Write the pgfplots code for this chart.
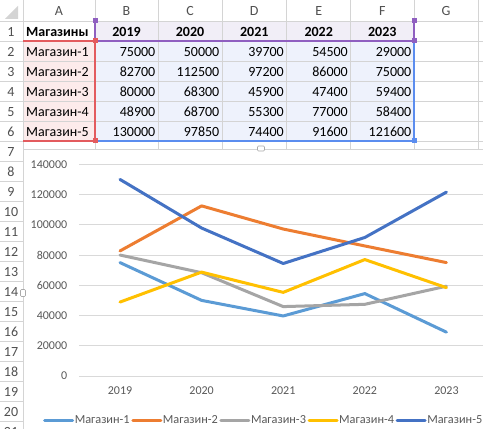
\documentclass[border=0pt]{standalone}
\usepackage{fontspec}
\setmainfont{Carlito}
\usepackage{pgfplots}
\pgfplotsset{compat=1.18}
\definecolor{gridc}{HTML}{D4D4D4}
\definecolor{hdrtxt}{HTML}{505050}
\definecolor{fillred}{HTML}{FCEBEB}
\definecolor{fillpur}{HTML}{F1EEF7}
\definecolor{fillblu}{HTML}{EEF2FC}
\definecolor{rngred}{HTML}{E35B5E}
\definecolor{rngpur}{HTML}{8F5FC0}
\definecolor{rngblu}{HTML}{5B8DEF}
\definecolor{chartgrid}{HTML}{D9D9D9}
\definecolor{txtgrey}{HTML}{595959}
\definecolor{sA}{HTML}{5B9BD5}
\definecolor{sB}{HTML}{ED7D31}
\definecolor{sC}{HTML}{A5A5A5}
\definecolor{sD}{HTML}{FFC000}
\definecolor{sE}{HTML}{4472C4}
\newcommand{\cellfont}{\fontsize{14}{16}\selectfont}
\begin{document}
\begin{tikzpicture}
\useasboundingbox (0,0) rectangle (483pt,429pt);
\clip (0,0) rectangle (483pt,429pt);
\fill[white] (0,0) rectangle (483pt,429pt);
\begin{scope}[yshift=429pt, x=1pt, y=-1pt]
  % fills
  \fill[fillred] (23,41) rectangle (95,141);
  \fill[fillpur] (95,21) rectangle (414,41);
  \fill[fillblu] (95,41) rectangle (414,141);
  % corner triangle
  \fill[gridc] (5,19) -- (18,19) -- (18,6) -- cycle;
  % grid lines
  \foreach \y in {21,41,61,81,101,121,141} \draw[gridc, line width=0.8pt] (0,\y) -- (483,\y);
  \foreach \x in {23,95,158,222,286.7,350.7,414,478} \draw[gridc, line width=0.8pt] (\x,0) -- (\x,149);
  \foreach \y in {161,181,...,421} \draw[gridc, line width=0.8pt] (0,\y) -- (23,\y);
  \draw[gridc, line width=0.8pt] (23,0) -- (23,429);
  % column letters
  \foreach \x/\l in {59/A,126.5/B,190/C,254.3/D,318.7/E,382.3/F,446/G}
    \node[anchor=base, inner sep=0, text=hdrtxt, font=\cellfont] at (\x,16) {\l};
  % row numbers
  \foreach \r in {1,...,21}
    \node[anchor=base, inner sep=0, text=hdrtxt, font=\cellfont] at (11,{37+20*(\r-1)}) {\r};
  % header row
  \node[anchor=base west, inner sep=0, font=\cellfont\bfseries] at (26,37) {Магазины};
  \foreach \x/\l in {126.5/2019,190/2020,254.3/2021,318.7/2022,382.3/2023}
    \node[anchor=base, inner sep=0, font=\cellfont\bfseries] at (\x,37) {\l};
  % names
  \foreach \r/\n in {2/1,3/2,4/3,5/4,6/5}
    \node[anchor=base west, inner sep=0, font=\cellfont] at (26,{37+20*(\r-1)}) {Магазин-\n};
  % numbers
  \foreach \x/\a/\b/\c/\d/\e in {155.5/75000/82700/80000/48900/130000,
      219.5/50000/112500/68300/68700/97850,
      284/39700/97200/45900/55300/74400,
      348/54500/86000/47400/77000/91600,
      411.5/29000/75000/59400/58400/121600}{
    \node[anchor=base east, inner sep=0, font=\cellfont] at (\x,57) {\a};
    \node[anchor=base east, inner sep=0, font=\cellfont] at (\x,77) {\b};
    \node[anchor=base east, inner sep=0, font=\cellfont] at (\x,97) {\c};
    \node[anchor=base east, inner sep=0, font=\cellfont] at (\x,117) {\d};
    \node[anchor=base east, inner sep=0, font=\cellfont] at (\x,137) {\e};
  }
  % range borders
  \draw[rngred, line width=2pt] (23,41) -- (95,41) -- (95,141) -- (23,141);
  \draw[rngpur, line width=2pt] (95,21) -- (95,41) -- (414,41) -- (414,21);
  \draw[rngblu, line width=2pt] (95,141) -- (414,141) -- (414,41);
  \draw[rngpur, line width=2pt] (95,41) -- (414,41);
  \draw[rngred, line width=2pt] (95,41) -- (95,141);
  % handles
  \fill[rngred] (92.5,38.5) rectangle (97.5,43.5);
  \fill[rngred] (92.5,138.5) rectangle (97.5,143.5);
  \fill[rngpur] (92.5,18.5) rectangle (97.5,23.5);
  \fill[rngpur] (411.5,18.5) rectangle (416.5,23.5);
  \fill[rngpur] (411.5,38.5) rectangle (416.5,43.5);
  \fill[rngblu] (411.5,138.5) rectangle (416.5,143.5);
  % chart area
  \draw[fill=white, draw=gridc, line width=0.8pt] (23,149) rectangle (520,440);
  \draw[fill=white, draw=gridc!80!black, line width=0.6pt, rounded corners=1pt] (257.5,146) rectangle (264.5,151);
  \draw[fill=white, draw=gridc!80!black, line width=0.6pt, rounded corners=1pt] (20.5,289.5) rectangle (25.5,296.5);
\end{scope}
\begin{axis}[
  at={(79.2pt,53pt)}, anchor=south west,
  scale only axis, width=403.8pt, height=211.7pt,
  xmin=-0.5, xmax=4.448, ymin=0, ymax=140000,
  xtick={0,1,2,3,4}, xticklabels={2019,2020,2021,2022,2023},
  ytick={0,20000,40000,60000,80000,100000,120000,140000},
  scaled y ticks=false,
  axis line style={draw=none},
  major tick length=0pt,
  ymajorgrids, grid style={chartgrid, line width=0.8pt},
  /pgf/number format/assume math mode=true,
  ticklabel style={font=\fontsize{12}{14}\selectfont, text=txtgrey},
  yticklabel style={/pgf/number format/fixed, /pgf/number format/1000 sep={}, xshift=-8.5pt},
  xticklabel style={yshift=-7pt},
  legend columns=-1,
  legend style={at={(axis description cs:0.4552,-0.2088)}, anchor=center,
    draw=none, fill=none, font=\fontsize{12.3}{14}\selectfont, text=txtgrey,
    /tikz/every even column/.append style={column sep=1pt},
    nodes={inner sep=0.6pt}},
  legend image code/.code={\draw[#1] (0pt,0pt) -- (28pt,0pt);},
  every axis plot/.append style={line width=3pt, line join=round, line cap=round},
]
\addplot[sA] coordinates {(0,75000) (1,50000) (2,39700) (3,54500) (4,29000)};
\addlegendentry{Магазин-1}
\addplot[sB] coordinates {(0,82700) (1,112500) (2,97200) (3,86000) (4,75000)};
\addlegendentry{Магазин-2}
\addplot[sC] coordinates {(0,80000) (1,68300) (2,45900) (3,47400) (4,59400)};
\addlegendentry{Магазин-3}
\addplot[sD] coordinates {(0,48900) (1,68700) (2,55300) (3,77000) (4,58400)};
\addlegendentry{Магазин-4}
\addplot[sE] coordinates {(0,130000) (1,97850) (2,74400) (3,91600) (4,121600)};
\addlegendentry{Магазин-5}
\end{axis}
\end{tikzpicture}
\end{document}
